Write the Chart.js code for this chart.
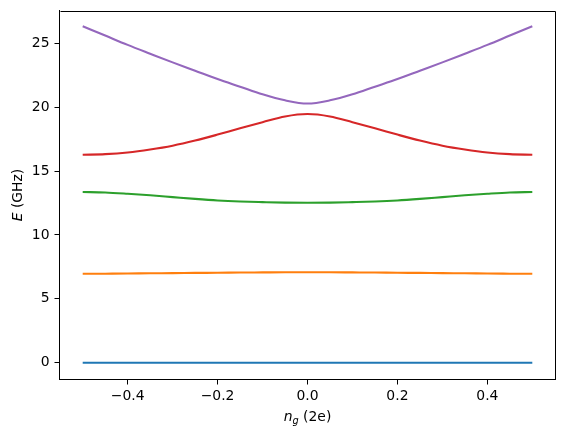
<!DOCTYPE html>
<html><head><meta charset="utf-8">
<script src="https://cdn.jsdelivr.net/npm/chart.js@4"></script>
<style>html,body{margin:0;padding:0;background:#fff}#wrap{width:564px;height:438px;position:relative}</style>
</head><body><div id="wrap"><canvas id="c"></canvas></div>
<script>
const ng = [-0.5,-0.45,-0.4,-0.35,-0.3,-0.25,-0.2,-0.15,-0.1,-0.05,0,0.05,0.1,0.15,0.2,0.25,0.3,0.35,0.4,0.45,0.5];
const level0 = [0,0,0,0,0,0,0,0,0,0,0,0,0,0,0,0,0,0,0,0,0];
const level1 = [6.96,6.97,6.98,7.0,7.01,7.03,7.04,7.06,7.07,7.08,7.08,7.08,7.07,7.06,7.04,7.03,7.01,7.0,6.98,6.97,6.96];
const level2 = [13.36,13.32,13.22,13.1,12.96,12.82,12.7,12.62,12.57,12.53,12.52,12.53,12.57,12.62,12.7,12.82,12.96,13.1,13.22,13.32,13.36];
const level3 = [16.27,16.32,16.45,16.68,16.98,17.38,17.85,18.35,18.82,19.27,19.46,19.27,18.82,18.35,17.85,17.38,16.98,16.68,16.45,16.32,16.27];
const level4 = [26.33,25.6,24.87,24.18,23.5,22.85,22.2,21.6,21.0,20.53,20.28,20.53,21.0,21.6,22.2,22.85,23.5,24.18,24.87,25.6,26.33];
const levels = [level0, level1, level2, level3, level4];
const colors = ['#1f77b4','#ff7f0e','#2ca02c','#d62728','#9467bd'];
const xTicks = [-0.4,-0.2,0,0.2,0.4];
const xTickLabels = ['\u22120.4','\u22120.2','0.0','0.2','0.4'];
const yTicks = [0,5,10,15,20,25];
const yTickLabels = ['0','5','10','15','20','25'];

const FONT = "'DejaVu Sans'";
const FS = 13.9;

const framePlugin = {
  id: 'frame',
  afterDatasetsDraw(chart) {
    const ctx = chart.ctx;
    const L = Math.round(chart.scales.x.left) + 0.5, R = Math.round(chart.scales.x.right) - 0.5;
    const T = Math.round(chart.scales.y.top) + 0.5, B = Math.round(chart.scales.y.bottom) - 0.5;
    ctx.save();
    ctx.setLineDash([]);
    ctx.globalAlpha = 1;
    ctx.lineWidth = 1;
    ctx.strokeStyle = '#000';
    ctx.beginPath();
    ctx.moveTo(L, T); ctx.lineTo(R, T); ctx.lineTo(R, B);
    ctx.stroke();
    ctx.restore();
  }
};

const titlePlugin = {
  id: 'titles',
  afterDraw(chart) {
    const ctx = chart.ctx, a = chart.chartArea;
    ctx.save();
    ctx.fillStyle = '#000';
    ctx.textBaseline = 'alphabetic';
    const fN = 'italic ' + FS + 'px ' + FONT, fG = 'italic ' + (FS*0.7).toFixed(2) + 'px ' + FONT, fR = FS + 'px ' + FONT;
    ctx.font = fN; const wN = ctx.measureText('n').width;
    ctx.font = fG; const wG = ctx.measureText('g').width;
    ctx.font = fR; const wR = ctx.measureText(' (2e)').width;
    let x = (a.left + a.right)/2 - (wN + wG + wR)/2;
    const by = 420.5;
    ctx.textAlign = 'left';
    ctx.font = fN; ctx.fillText('n', x, by); x += wN;
    ctx.font = fG; ctx.fillText('g', x, by + 3); x += wG;
    ctx.font = fR; ctx.fillText(' (2e)', x, by);
    ctx.translate(22, (a.top + a.bottom)/2);
    ctx.rotate(-Math.PI/2);
    ctx.font = fN; const wE = ctx.measureText('E').width;
    ctx.font = fR; const wH = ctx.measureText(' (GHz)').width;
    let y = -(wE + wH)/2;
    ctx.font = fN; ctx.fillText('E', y, 0); y += wE;
    ctx.font = fR; ctx.fillText(' (GHz)', y, 0);
    ctx.restore();
  }
};

new Chart(document.getElementById('c'), {
  type: 'line',
  data: {
    datasets: levels.map((lv, i) => ({
      data: ng.map((v, j) => ({x: v, y: lv[j]})),
      borderColor: colors[i],
      backgroundColor: colors[i],
      borderWidth: 2.08,
      pointRadius: 0,
      fill: false,
      cubicInterpolationMode: 'monotone'
    }))
  },
  options: {
    responsive: true,
    maintainAspectRatio: false,
    animation: false,
    layout: {padding: {left: 0, right: 8.5, top: 10.5, bottom: 0}},
    plugins: {legend: {display: false}, tooltip: {enabled: false}},
    scales: {
      x: {
        type: 'linear', min: -0.5516, max: 0.5516,
        afterBuildTicks: s => { s.ticks = xTicks.map(v => ({value: v})); },
        afterFit: s => { s.height = 58.5; },
        grid: {drawOnChartArea: false, drawTicks: true, tickLength: 5, color: '#000', lineWidth: 1},
        border: {display: true, color: '#000', width: 1},
        ticks: {color: '#000', padding: 4, maxRotation: 0, autoSkip: false, font: {family: 'DejaVu Sans', size: FS},
          callback: v => xTickLabels[xTicks.indexOf(v)]}
      },
      y: {
        type: 'linear', min: -1.31, max: 27.56,
        afterBuildTicks: s => { s.ticks = yTicks.map(v => ({value: v})); },
        afterFit: s => { s.width = 59.5; },
        grid: {drawOnChartArea: false, drawTicks: true, tickLength: 5, color: '#000', lineWidth: 1},
        border: {display: true, color: '#000', width: 1},
        ticks: {color: '#000', padding: 5, autoSkip: false, font: {family: 'DejaVu Sans', size: FS, lineHeight: 0.6},
          callback: v => yTickLabels[yTicks.indexOf(v)]}
      }
    }
  },
  plugins: [framePlugin, titlePlugin]
});
</script>
</body></html>
